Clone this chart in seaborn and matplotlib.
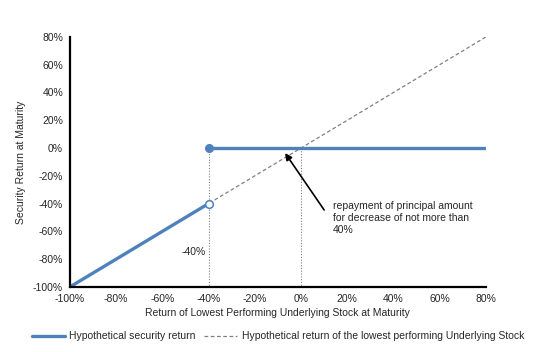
import numpy as np
import pandas as pd
import matplotlib.pyplot as plt
import seaborn as sns
from matplotlib.ticker import FuncFormatter

# data (percent)
stock_x = [-100, 80]
stock_y = [-100, 80]
loss_x = [-100, -40]
loss_y = [-100, -40]
flat_x = [-40, 80]
flat_y = [0, 0]
barrier = -40
ticks = [-100, -80, -60, -40, -20, 0, 20, 40, 60, 80]

blue = "#4F81BD"

sns.set_style("white")
plt.rcParams["font.family"] = ["Liberation Sans", "DejaVu Sans"]
plt.rcParams["font.size"] = 7.5

fig, ax = plt.subplots(figsize=(5.49, 3.52), dpi=100)
fig.subplots_adjust(left=0.1275, right=0.885, top=0.895, bottom=0.185)

# dotted guides
ax.plot([barrier, barrier], [0, -100], color="#808080", ls=(0, (1, 1.5)), lw=0.8)
ax.plot([0, 0], [0, -100], color="#808080", ls=(0, (1, 1.5)), lw=0.8)

sns.lineplot(x=stock_x, y=stock_y, ax=ax, color="#808080", lw=0.9,
             ls=(0, (3, 2)), label="Hypothetical return of the lowest performing Underlying Stock")
sns.lineplot(x=loss_x, y=loss_y, ax=ax, color=blue, lw=2.4,
             label="Hypothetical security return")
sns.lineplot(x=flat_x, y=flat_y, ax=ax, color=blue, lw=2.4)

ax.plot([barrier], [0], "o", color=blue, ms=5.5, zorder=5)
ax.plot([barrier], [barrier], "o", mfc="white", mec=blue, mew=1.1, ms=5.5, zorder=5)

ax.annotate("", xy=(-6.9, -3.6), xytext=(10, -44.6),
            arrowprops=dict(arrowstyle="-|>", color="black", lw=1.2,
                            mutation_scale=10, shrinkA=0, shrinkB=0))
ax.text(13.8, -38.5, "repayment of principal amount\nfor decrease of not more than\n40%",
        va="top", ha="left")
ax.text(-46.5, -75, "-40%", ha="center", va="center")

ax.set_xlim(-100, 80)
ax.set_ylim(-100, 80)
ax.set_xticks(ticks)
ax.set_yticks(ticks)
pct = FuncFormatter(lambda v, p: f"{v:.0f}%")
ax.xaxis.set_major_formatter(pct)
ax.yaxis.set_major_formatter(pct)
ax.set_xlabel("Return of Lowest Performing Underlying Stock at Maturity", labelpad=3)
ax.set_ylabel("Security Return at Maturity", labelpad=5)

sns.despine(ax=ax)
for s in ["left", "bottom"]:
    ax.spines[s].set_color("black")
    ax.spines[s].set_linewidth(1.6)
ax.tick_params(axis="both", direction="out", length=3, width=1, color="black", pad=2)

h, l = ax.get_legend_handles_labels()
order = [l.index("Hypothetical security return"),
         l.index("Hypothetical return of the lowest performing Underlying Stock")]
ax.legend([h[i] for i in order], [l[i] for i in order], loc="upper center",
          bbox_to_anchor=(0.5, -0.14), ncol=2, frameon=False,
          handlelength=3.2, columnspacing=0.8, handletextpad=0.4)

fig.savefig("out.png", dpi=100)
